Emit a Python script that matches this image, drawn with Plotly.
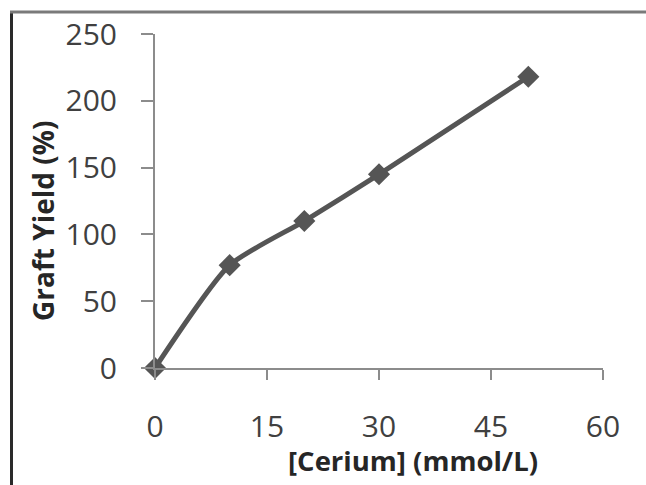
import plotly.graph_objects as go

# Data
cerium = [0, 10, 20, 30, 50]
graft_yield = [0, 77, 110, 145, 218]
x_ticks = [0, 15, 30, 45, 60]
y_ticks = [0, 50, 100, 150, 200, 250]
x_title = "[Cerium] (mmol/L)"
y_title = "Graft Yield (%)"

FONT = "Open Sans"
AX = "#8c8c8c"
TXT = "#404040"

fig = go.Figure()
fig.add_trace(go.Scatter(
    x=cerium, y=graft_yield, mode="lines+markers",
    line=dict(color="#555555", width=5, shape="spline", smoothing=0.6),
    marker=dict(symbol="diamond", size=17, color="#555555"),
    showlegend=False, cliponaxis=False,
))

common_x = dict(range=[0, 60], tickvals=x_ticks, showgrid=False, zeroline=False,
                linecolor=AX, linewidth=2, tickcolor=AX, tickwidth=2, fixedrange=True)
common_y = dict(range=[0, 250], tickvals=y_ticks, showgrid=False, zeroline=False,
                linecolor=AX, linewidth=2, tickcolor=AX, tickwidth=2, fixedrange=True)

fig.update_layout(
    width=646, height=485,
    margin=dict(l=155, r=43, t=34, b=117),
    paper_bgcolor="white", plot_bgcolor="white",
    font=dict(family=FONT, color=TXT, size=30),
    xaxis=dict(**common_x, showline=True, ticks="outside", ticklen=10,
               ticklabelstandoff=21, tickfont=dict(size=30, color=TXT)),
    yaxis=dict(**common_y, showline=True, ticks="outside", ticklen=12,
               ticklabelstandoff=18, tickfont=dict(size=30, color=TXT)),
    xaxis2=dict(**common_x, overlaying="x", showline=False, ticks="inside",
                ticklen=13, showticklabels=False),
    yaxis2=dict(**common_y, overlaying="y", showline=False, ticks="inside",
                ticklen=12, showticklabels=False),
)

fig.add_annotation(text=f"<b>{x_title}</b>", xref="paper", yref="paper",
                   x=(413 - 155) / 448, y=-(460 - 368) / 334,
                   showarrow=False, font=dict(family=FONT, size=27.5, color="#262626"),
                   xanchor="center", yanchor="middle")
fig.add_annotation(text=f"<b>{y_title}</b>", xref="paper", yref="paper",
                   x=-(155 - 43) / 448, y=(368 - 221) / 334,
                   showarrow=False, textangle=-90,
                   font=dict(family=FONT, size=28, color="#262626"),
                   xanchor="center", yanchor="middle")

# page border lines (left and top)
fig.add_shape(type="line", xref="paper", yref="paper",
              x0=-(155 - 11.5) / 448, x1=-(155 - 11.5) / 448,
              y0=(368 - 11) / 334, y1=-(485 - 368) / 334 - 0.01,
              line=dict(color="#2a2a2a", width=3))
fig.add_shape(type="line", xref="paper", yref="paper",
              x0=-(155 - 10) / 448, x1=(646 - 155) / 448 + 0.01,
              y0=(368 - 12) / 334, y1=(368 - 12) / 334,
              line=dict(color="#7a7a7a", width=3))

fig.write_html("out.html")
